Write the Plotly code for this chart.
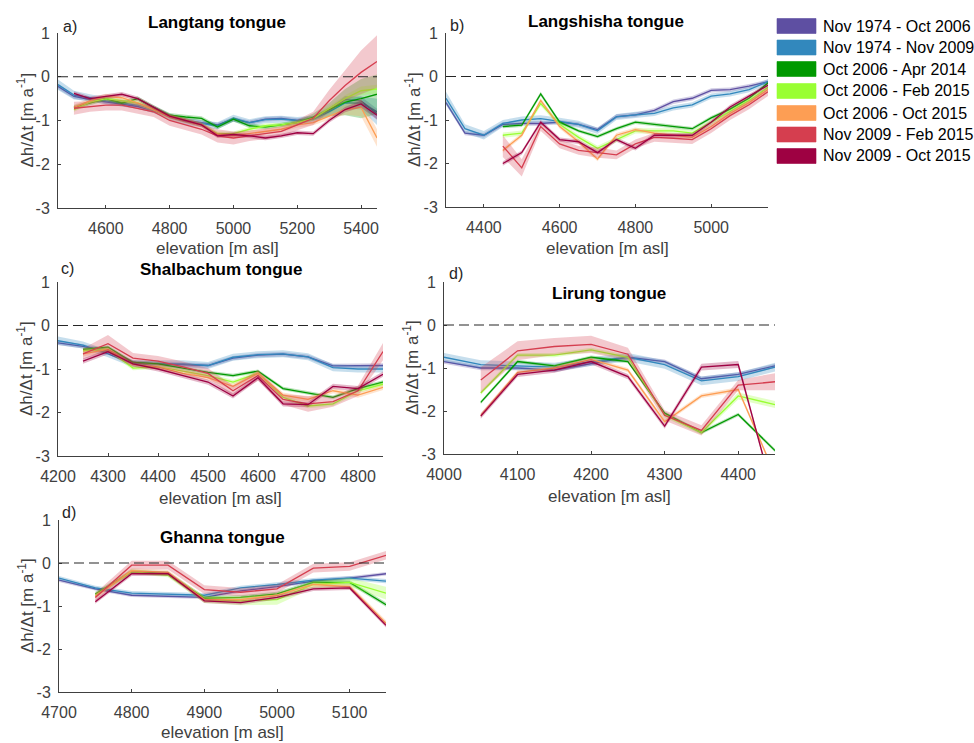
import plotly.graph_objects as go

W, H = 974, 743

SERIES = ["Nov 1974 - Oct 2006", "Nov 1974 - Nov 2009", "Oct 2006 - Apr 2014",
          "Oct 2006 - Feb 2015", "Oct 2006 - Oct 2015", "Nov 2009 - Feb 2015",
          "Nov 2009 - Oct 2015"]
COLORS = ["#5e4fa2", "#3288bd", "#009900", "#99ff33", "#fd9e54", "#d53e4f", "#9e0142"]

YTICKS = [-3, -2, -1, 0, 1]
YTICK_TEXT = ["-3", "-2", "-1", "0", "1"]

# ---- a) Langtang
LANGTANG_ELEV = [4450, 4500, 4550, 4600, 4650, 4700, 4750, 4800, 4850, 4900, 4950,
                 5000, 5050, 5100, 5150, 5200, 5250, 5300, 5350, 5400, 5450]
LANGTANG_DH = [
    [-0.22, -0.45, -0.52, -0.57, -0.62, -0.68, -0.78, -0.9, -1.0, -1.05, -1.1, -0.97, -1.05, -0.97, -0.95, -1.0, -0.95, -0.78, -0.52, -0.55, -0.85],
    [-0.18, -0.42, -0.48, -0.55, -0.6, -0.65, -0.75, -0.92, -1.02, -1.07, -1.12, -0.95, -1.05, -0.98, -0.97, -1.0, -0.97, -0.8, -0.6, -0.6, -0.8],
    [None, -0.7, -0.6, -0.5, -0.6, -0.5, -0.7, -0.88, -0.92, -0.95, -1.15, -0.97, -1.12, -1.15, -1.1, -1.05, -0.92, -0.75, -0.58, -0.5, -0.4],
    [None, -0.75, -0.58, -0.5, -0.55, -0.6, -0.75, -0.9, -1.0, -1.1, -1.3, -1.3, -1.2, -1.12, -1.1, -1.05, -0.95, -0.72, -0.5, -0.32, -0.28],
    [None, -0.7, -0.55, -0.45, -0.48, -0.6, -0.75, -0.92, -1.0, -1.1, -1.32, -1.35, -1.3, -1.25, -1.2, -1.1, -1.05, -0.9, -0.75, -0.7, -1.4],
    [None, -0.72, -0.68, -0.65, -0.65, -0.72, -0.8, -1.0, -1.1, -1.2, -1.35, -1.4, -1.35, -1.3, -1.25, -1.1, -0.95, -0.55, -0.2, 0.1, 0.35],
    [None, -0.38, -0.5, -0.45, -0.4, -0.5, -0.7, -0.9, -1.0, -1.1, -1.35, -1.32, -1.35, -1.4, -1.35, -1.28, -1.3, -1.0, -0.75, -0.62, -0.88],
]
LANGTANG_ERR = [
    [0.06, 0.05, 0.05, 0.05, 0.05, 0.05, 0.05, 0.05, 0.05, 0.05, 0.05, 0.05, 0.05, 0.05, 0.05, 0.05, 0.05, 0.06, 0.08, 0.1, 0.12],
    [0.12, 0.1, 0.08, 0.08, 0.08, 0.08, 0.08, 0.08, 0.08, 0.08, 0.08, 0.08, 0.08, 0.08, 0.08, 0.08, 0.08, 0.1, 0.12, 0.15, 0.3],
    [None, 0.05, 0.05, 0.05, 0.05, 0.05, 0.05, 0.05, 0.05, 0.05, 0.05, 0.05, 0.05, 0.05, 0.05, 0.05, 0.08, 0.15, 0.3, 0.45, 0.45],
    [None, 0.05, 0.05, 0.05, 0.05, 0.05, 0.05, 0.05, 0.05, 0.05, 0.05, 0.05, 0.05, 0.05, 0.05, 0.05, 0.05, 0.06, 0.08, 0.1, 0.1],
    [None, 0.06, 0.06, 0.06, 0.06, 0.06, 0.06, 0.06, 0.06, 0.06, 0.06, 0.06, 0.06, 0.06, 0.06, 0.06, 0.06, 0.08, 0.12, 0.2, 0.2],
    [None, 0.15, 0.12, 0.12, 0.12, 0.12, 0.12, 0.12, 0.12, 0.12, 0.15, 0.15, 0.12, 0.12, 0.12, 0.12, 0.15, 0.25, 0.35, 0.5, 0.6],
    [None, 0.05, 0.05, 0.05, 0.05, 0.05, 0.05, 0.05, 0.05, 0.05, 0.05, 0.05, 0.05, 0.05, 0.05, 0.05, 0.05, 0.05, 0.06, 0.08, 0.1],
]

# ---- b) Langshisha
LANGSHISHA_ELEV = [4300, 4350, 4400, 4450, 4500, 4550, 4600, 4650, 4700, 4750, 4800,
                   4850, 4900, 4950, 5000, 5050, 5100, 5150]
LANGSHISHA_DH = [
    [-0.6, -1.3, -1.35, -1.1, -1.08, -1.08, -1.05, -1.1, -1.22, -0.92, -0.88, -0.78, -0.58, -0.5, -0.32, -0.3, -0.22, -0.12],
    [-0.5, -1.2, -1.35, -1.08, -1.0, -0.97, -1.03, -1.1, -1.25, -0.93, -0.88, -0.85, -0.72, -0.65, -0.45, -0.4, -0.3, -0.12],
    [None, None, None, -1.15, -1.12, -0.4, -1.05, -1.25, -1.38, -1.2, -1.05, -1.1, -1.15, -1.2, -0.95, -0.75, -0.5, -0.15],
    [None, None, None, -1.35, -1.3, -0.62, -1.1, -1.4, -1.65, -1.45, -1.25, -1.25, -1.25, -1.3, -1.05, -0.8, -0.55, -0.25],
    [None, None, None, -1.7, -1.35, -0.55, -1.15, -1.5, -1.9, -1.35, -1.22, -1.3, -1.35, -1.4, -1.15, -0.85, -0.6, -0.3],
    [None, None, None, -1.6, -2.1, -1.15, -1.55, -1.7, -1.75, -1.8, -1.55, -1.4, -1.42, -1.45, -1.2, -0.9, -0.65, -0.35],
    [None, None, None, -2.0, -1.75, -1.05, -1.45, -1.5, -1.75, -1.45, -1.65, -1.35, -1.35, -1.35, -1.05, -0.7, -0.45, -0.2],
]
LANGSHISHA_ERR = [
    [0.05, 0.05, 0.05, 0.05, 0.05, 0.05, 0.05, 0.05, 0.05, 0.05, 0.05, 0.05, 0.05, 0.05, 0.05, 0.05, 0.05, 0.05],
    [0.15, 0.1, 0.1, 0.08, 0.08, 0.08, 0.08, 0.08, 0.07, 0.07, 0.07, 0.06, 0.06, 0.06, 0.06, 0.06, 0.06, 0.06],
    [None, None, None, 0.04, 0.04, 0.05, 0.04, 0.04, 0.04, 0.04, 0.04, 0.04, 0.04, 0.04, 0.04, 0.04, 0.04, 0.04],
    [None, None, None, 0.06, 0.06, 0.06, 0.06, 0.06, 0.06, 0.06, 0.06, 0.06, 0.06, 0.06, 0.06, 0.06, 0.06, 0.06],
    [None, None, None, 0.05, 0.05, 0.05, 0.05, 0.05, 0.05, 0.05, 0.05, 0.05, 0.05, 0.05, 0.05, 0.05, 0.05, 0.05],
    [None, None, None, 0.25, 0.2, 0.1, 0.1, 0.1, 0.12, 0.1, 0.1, 0.1, 0.1, 0.1, 0.1, 0.1, 0.1, 0.1],
    [None, None, None, 0.05, 0.05, 0.05, 0.05, 0.05, 0.05, 0.05, 0.05, 0.05, 0.05, 0.05, 0.05, 0.05, 0.05, 0.05],
]

# ---- c) Shalbachum
SHALBACHUM_ELEV = [4200, 4250, 4300, 4350, 4400, 4450, 4500, 4550, 4600, 4650, 4700,
                   4750, 4800, 4850]
SHALBACHUM_DH = [
    [-0.4, -0.48, -0.6, -0.85, -0.88, -0.9, -0.92, -0.75, -0.68, -0.66, -0.72, -0.93, -0.93, -0.92],
    [-0.35, -0.45, -0.65, -0.88, -0.88, -0.88, -0.92, -0.73, -0.67, -0.65, -0.72, -0.97, -1.0, -1.0],
    [None, -0.55, -0.5, -0.85, -0.88, -0.98, -1.08, -1.15, -1.05, -1.45, -1.55, -1.65, -1.45, -1.3],
    [None, -0.58, -0.55, -0.98, -0.95, -1.05, -1.15, -1.3, -1.1, -1.65, -1.85, -1.8, -1.5, -1.35],
    [None, -0.65, -0.55, -0.9, -0.95, -1.1, -1.2, -1.4, -1.1, -1.6, -1.7, -1.5, -1.6, -1.42],
    [None, -0.65, -0.42, -0.75, -0.82, -0.95, -1.1, -1.5, -1.15, -1.7, -1.8, -1.75, -1.5, -0.6],
    [None, -0.82, -0.6, -0.88, -1.0, -1.15, -1.3, -1.62, -1.2, -1.8, -1.82, -1.4, -1.45, -1.12],
]
SHALBACHUM_ERR = [
    [0.05, 0.05, 0.05, 0.05, 0.05, 0.05, 0.05, 0.05, 0.05, 0.05, 0.05, 0.05, 0.05, 0.05],
    [0.1, 0.08, 0.08, 0.08, 0.08, 0.08, 0.08, 0.08, 0.08, 0.08, 0.08, 0.08, 0.08, 0.08],
    [None, 0.04, 0.04, 0.04, 0.04, 0.04, 0.04, 0.04, 0.04, 0.04, 0.04, 0.04, 0.04, 0.04],
    [None, 0.05, 0.05, 0.05, 0.05, 0.05, 0.05, 0.05, 0.05, 0.05, 0.05, 0.05, 0.05, 0.05],
    [None, 0.06, 0.06, 0.06, 0.06, 0.06, 0.06, 0.06, 0.06, 0.06, 0.06, 0.06, 0.06, 0.06],
    [None, 0.12, 0.2, 0.12, 0.12, 0.12, 0.12, 0.12, 0.12, 0.12, 0.18, 0.12, 0.12, 0.2],
    [None, 0.06, 0.06, 0.06, 0.06, 0.06, 0.06, 0.06, 0.06, 0.06, 0.06, 0.06, 0.06, 0.06],
]

# ---- d) Lirung
LIRUNG_ELEV = [4000, 4050, 4100, 4150, 4200, 4250, 4300, 4350, 4400, 4450]
LIRUNG_DH = [
    [-0.85, -1.0, -1.0, -1.05, -0.9, -0.75, -0.85, -1.25, -1.15, -0.95],
    [-0.75, -0.92, -0.95, -0.98, -0.85, -0.75, -0.92, -1.3, -1.2, -0.98],
    [None, -1.8, -0.85, -0.95, -0.75, -0.85, -2.05, -2.5, -2.08, -2.92],
    [None, -1.58, -0.7, -0.7, -0.58, -0.75, -2.1, -2.5, -1.65, -1.85],
    [None, -2.1, -1.1, -1.0, -0.8, -1.05, -2.25, -1.65, -1.5, -3.48],
    [None, -1.28, -0.6, -0.5, -0.45, -0.68, -2.1, -2.45, -1.4, -1.32],
    [None, -2.12, -1.15, -1.05, -0.85, -1.2, -2.35, -0.98, -0.92, -4.07],
]
LIRUNG_ERR = [
    [0.05, 0.05, 0.05, 0.05, 0.05, 0.05, 0.05, 0.05, 0.05, 0.05],
    [0.1, 0.1, 0.1, 0.1, 0.1, 0.1, 0.1, 0.1, 0.1, 0.1],
    [None, 0.04, 0.04, 0.04, 0.04, 0.04, 0.04, 0.04, 0.04, 0.04],
    [None, 0.05, 0.05, 0.05, 0.05, 0.05, 0.05, 0.05, 0.08, 0.08],
    [None, 0.05, 0.05, 0.05, 0.05, 0.05, 0.05, 0.05, 0.05, 0.05],
    [None, 0.3, 0.22, 0.2, 0.2, 0.15, 0.12, 0.12, 0.12, 0.2],
    [None, 0.06, 0.06, 0.06, 0.06, 0.06, 0.06, 0.08, 0.08, 0.06],
]

# ---- e) Ghanna
GHANNA_ELEV = [4700, 4750, 4800, 4850, 4900, 4950, 5000, 5050, 5100, 5150]
GHANNA_DH = [
    [-0.4, -0.6, -0.75, -0.78, -0.8, -0.65, -0.55, -0.42, -0.35, -0.25],
    [-0.35, -0.58, -0.7, -0.72, -0.75, -0.58, -0.5, -0.4, -0.35, -0.42],
    [None, -0.72, -0.2, -0.25, -0.82, -0.8, -0.72, -0.45, -0.45, -0.97],
    [None, -0.75, -0.2, -0.28, -0.85, -0.88, -0.85, -0.5, -0.45, -0.7],
    [None, -0.78, -0.18, -0.22, -0.85, -0.85, -0.75, -0.5, -0.55, -1.4],
    [None, -0.8, -0.05, -0.05, -0.62, -0.68, -0.6, -0.12, -0.08, 0.18],
    [None, -0.9, -0.25, -0.25, -0.88, -0.92, -0.8, -0.6, -0.58, -1.45],
]
GHANNA_ERR = [
    [0.04, 0.04, 0.04, 0.04, 0.04, 0.04, 0.04, 0.04, 0.04, 0.04],
    [0.05, 0.05, 0.05, 0.05, 0.05, 0.05, 0.05, 0.05, 0.05, 0.05],
    [None, 0.05, 0.05, 0.05, 0.05, 0.05, 0.05, 0.05, 0.05, 0.05],
    [None, 0.05, 0.05, 0.05, 0.08, 0.1, 0.12, 0.08, 0.1, 0.15],
    [None, 0.06, 0.06, 0.06, 0.06, 0.06, 0.06, 0.06, 0.06, 0.06],
    [None, 0.1, 0.1, 0.1, 0.1, 0.1, 0.1, 0.1, 0.1, 0.1],
    [None, 0.05, 0.05, 0.05, 0.05, 0.05, 0.05, 0.05, 0.05, 0.05],
]

PANEL_TITLES = ["Langtang tongue", "Langshisha tongue", "Shalbachum tongue",
                "Lirung tongue", "Ghanna tongue"]
PANEL_LETTERS = ["a)", "b)", "c)", "d)", "d)"]
X_RANGES = [[4450, 5450], [4300, 5150], [4200, 4850], [4000, 4450], [4700, 5150]]
X_TICKS = [[4600, 4800, 5000, 5200, 5400], [4400, 4600, 4800, 5000],
           [4200, 4300, 4400, 4500, 4600, 4700, 4800],
           [4000, 4100, 4200, 4300, 4400], [4700, 4800, 4900, 5000, 5100]]

# layout in pixels: (left, right, top, bottom)
BOXES = [(58, 377, 33, 208), (446, 768, 33, 207), (58, 383, 282, 456),
         (444, 775, 282, 454), (59, 386, 520, 692)]
TITLE_POS = [(217, 22), (606, 21), (221, 269), (609, 293), (222, 537)]
LETTER_POS = [(61, 26), (448, 25), (59, 268), (447, 273), (60, 512)]
XLABEL_Y = [249, 249, 498, 496, 732]

PANELS = [(LANGTANG_ELEV, LANGTANG_DH, LANGTANG_ERR),
          (LANGSHISHA_ELEV, LANGSHISHA_DH, LANGSHISHA_ERR),
          (SHALBACHUM_ELEV, SHALBACHUM_DH, SHALBACHUM_ERR),
          (LIRUNG_ELEV, LIRUNG_DH, LIRUNG_ERR),
          (GHANNA_ELEV, GHANNA_DH, GHANNA_ERR)]


def px(x):
    return x / W


def py(y):
    return 1 - y / H


def rgba(hexc, a):
    h = hexc.lstrip("#")
    return "rgba(%d,%d,%d,%.2f)" % (int(h[0:2], 16), int(h[2:4], 16), int(h[4:6], 16), a)


FONT = "Liberation Sans, Arial, sans-serif"
AXC = "#404040"

fig = go.Figure()
layout = dict(width=W, height=H, margin=dict(l=0, r=0, t=0, b=0, autoexpand=False),
              template="none",
              paper_bgcolor="white", plot_bgcolor="white", showlegend=False,
              font=dict(family=FONT, size=16, color="#262626"))
annotations = []
shapes = []

for i, (elev, dh, err) in enumerate(PANELS):
    n = i + 1
    xa = "x" if n == 1 else "x%d" % n
    ya = "y" if n == 1 else "y%d" % n
    l, r, t, b = BOXES[i]
    layout["xaxis" if n == 1 else "xaxis%d" % n] = dict(
        domain=[px(l), px(r)], anchor=ya, range=X_RANGES[i], tickvals=X_TICKS[i],
        showline=True, linecolor=AXC, linewidth=1, ticks="inside", ticklen=3,
        tickcolor=AXC, showgrid=False, zeroline=False, mirror=False, automargin=False,
        tickfont=dict(size=16, color=AXC), ticklabelstandoff=6)
    layout["yaxis" if n == 1 else "yaxis%d" % n] = dict(
        domain=[py(b), py(t)], anchor=xa, range=[-3, 1], tickvals=YTICKS,
        ticktext=YTICK_TEXT, showline=True, linecolor=AXC, linewidth=1, automargin=False,
        ticks="inside", ticklen=3, tickcolor=AXC, showgrid=False, zeroline=False,
        tickfont=dict(size=16, color=AXC), ticklabelstandoff=4)

    for s in range(len(SERIES)):
        xs = [e for e, v in zip(elev, dh[s]) if v is not None]
        ys = [v for v in dh[s] if v is not None]
        es = [v for v in err[s] if v is not None]
        up = [a + e for a, e in zip(ys, es)]
        lo = [a - e for a, e in zip(ys, es)]
        fig.add_trace(go.Scatter(x=xs + xs[::-1], y=up + lo[::-1], fill="toself",
                                 fillcolor=rgba(COLORS[s], 0.28), line=dict(width=0),
                                 mode="lines", xaxis=xa, yaxis=ya, hoverinfo="skip"))
        fig.add_trace(go.Scatter(x=xs, y=ys, mode="lines", name=SERIES[s],
                                 line=dict(color=COLORS[s], width=1.3),
                                 xaxis=xa, yaxis=ya))

    shapes.append(dict(type="line", xref="%s domain" % xa, yref=ya, x0=0, x1=1, y0=0, y1=0,
                       line=dict(color="#262626", width=1.2, dash="10px,5px")))

    tx, ty = TITLE_POS[i]
    annotations.append(dict(text="<b>%s</b>" % PANEL_TITLES[i], x=px(tx), y=py(ty),
                            xref="paper", yref="paper", showarrow=False,
                            font=dict(size=17, color="#000000"), xanchor="center", yanchor="middle"))
    lx, ly = LETTER_POS[i]
    annotations.append(dict(text=PANEL_LETTERS[i], x=px(lx), y=py(ly), xref="paper", yref="paper",
                            showarrow=False, font=dict(size=16, color="#262626"),
                            xanchor="left", yanchor="middle"))
    annotations.append(dict(text="elevation [m asl]", x=px((l + r) / 2), y=py(XLABEL_Y[i]),
                            xref="paper", yref="paper", showarrow=False,
                            font=dict(size=17, color=AXC), xanchor="center", yanchor="middle"))
    annotations.append(dict(text="Δh/Δt [m a<sup>-1</sup>]", x=px(l - 33), y=py((t + b) / 2),
                            xref="paper", yref="paper", showarrow=False, textangle=-90,
                            font=dict(size=17, color=AXC), xanchor="center", yanchor="middle"))

# legend (drawn manually to match the reference's boxes)
LEG_ROWS = [26, 47.5, 69, 91, 113, 134.5, 156]
for s, name in enumerate(SERIES):
    yc = LEG_ROWS[s]
    shapes.append(dict(type="rect", xref="paper", yref="paper", x0=px(777), x1=px(816),
                       y0=py(yc + 7.5), y1=py(yc - 7.5), fillcolor=COLORS[s],
                       line=dict(color=rgba(COLORS[s], 0.6), width=1)))
    annotations.append(dict(text=name, x=px(821), y=py(yc), xref="paper", yref="paper",
                            showarrow=False, font=dict(size=16, color="#000000"),
                            xanchor="left", yanchor="middle"))

layout["annotations"] = annotations
layout["shapes"] = shapes
fig.update_layout(**layout)
fig.write_html("out.html")
